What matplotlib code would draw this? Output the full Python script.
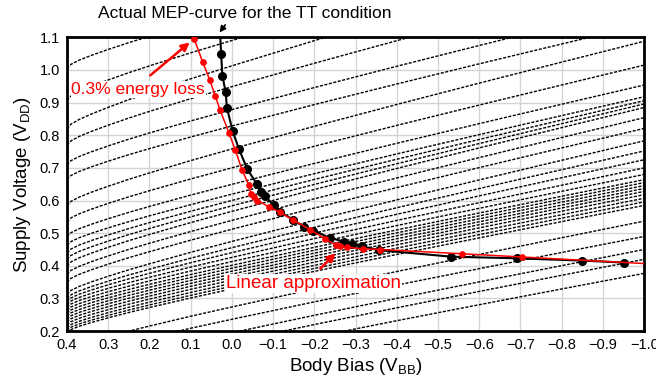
import numpy as np
import matplotlib.pyplot as plt

plt.rcParams['font.family'] = ['Liberation Sans', 'DejaVu Sans']

# actual MEP curve for TT (black)
mep_vbb = [0.028, 0.026, 0.023, 0.015, 0.012, -0.002, -0.017, -0.037, -0.060, -0.070,
           -0.081, -0.102, -0.117, -0.149, -0.174, -0.198, -0.237, -0.273, -0.291,
           -0.315, -0.358, -0.532, -0.692, -0.849, -0.952]
mep_vdd = [1.100, 1.049, 0.983, 0.932, 0.885, 0.812, 0.759, 0.697, 0.652, 0.627,
           0.613, 0.585, 0.565, 0.541, 0.520, 0.508, 0.486, 0.474, 0.468,
           0.460, 0.448, 0.428, 0.423, 0.416, 0.410]

# linear approximation with 0.3% energy loss (red)
lin_vbb = [0.091, 0.071, 0.053, 0.040, 0.028, 0.007, -0.008, -0.025, -0.041, -0.046,
           -0.054, -0.062, -0.091, -0.117, -0.149, -0.190, -0.226, -0.253, -0.263,
           -0.279, -0.318, -0.360, -0.558, -0.704, -1.000]
lin_vdd = [1.094, 1.025, 0.968, 0.919, 0.876, 0.807, 0.756, 0.693, 0.648, 0.620,
           0.610, 0.600, 0.580, 0.564, 0.540, 0.511, 0.483, 0.463, 0.460,
           0.457, 0.452, 0.450, 0.437, 0.427, 0.407]

# dashed constant-frequency contours: VDD at VBB=0.4 and at VBB=-1.0
contour_left = [1.005, 0.907, 0.820, 0.770, 0.710, 0.665, 0.585, 0.535, 0.490, 0.463,
                0.440, 0.420, 0.400, 0.374, 0.350, 0.313,
                0.300, 0.291, 0.282, 0.273, 0.264, 0.255, 0.246, 0.237, 0.228, 0.219,
                0.210, 0.202, 0.195,
                0.136, 0.103, 0.061, 0.034, 0.000]
contour_right = [1.500, 1.440, 1.380, 1.290, 1.200, 1.140, 1.088, 1.015, 0.954, 0.918,
                 0.906, 0.896, 0.885, 0.854, 0.821, 0.783,
                 0.752, 0.725, 0.700, 0.680, 0.664, 0.655, 0.646, 0.637, 0.628, 0.618,
                 0.607, 0.596, 0.585,
                 0.537, 0.490, 0.450, 0.420, 0.377]

# common contour shape: fraction of total rise vs distance from VBB = 0.4
shape_u = [0, 0.01, 0.03, 0.06, 0.1, 0.15, 0.2, 0.3, 0.4, 0.6, 0.8, 1.0, 1.2, 1.4]
shape_frac = [0, 0.025, 0.051, 0.081, 0.117, 0.159, 0.198, 0.273, 0.344, 0.482,
              0.615, 0.745, 0.873, 1.0]

fig = plt.figure(figsize=(6.56, 3.85), dpi=100)
ax = fig.add_axes([0.102, 0.140, 0.880, 0.763])

u = np.array(shape_u)
frac = np.array(shape_frac)
for vl, vr in zip(contour_left, contour_right):
    ax.plot(0.4 - u, vl + (vr - vl) * frac, color='k', lw=1.0,
            ls=(0, (2.2, 1.1)), zorder=2)

ax.plot(mep_vbb, mep_vdd, color='k', lw=1.5, zorder=4)
ax.plot(mep_vbb[1:], mep_vdd[1:], 'o', color='k', ms=5.5, zorder=4)
ax.plot(lin_vbb, lin_vdd, color='red', lw=1.1, zorder=5)
ax.plot(lin_vbb[:-1], lin_vdd[:-1], 'o', color='red', ms=3.8, zorder=5)

ax.set_xlim(0.4, -1.0)
ax.set_ylim(0.2, 1.1)
xt = np.round(np.arange(0.4, -1.05, -0.1), 1)
yt = np.round(np.arange(0.2, 1.15, 0.1), 1)
ax.set_xticks(xt)
ax.set_xticklabels([f'{v:.1f}'.replace('-', '\u2212') for v in xt])
ax.set_yticks(yt)
ax.set_yticklabels([f'{v:.1f}' for v in yt])
ax.tick_params(length=0, labelsize=10.5, pad=5)
ax.grid(color='#d4d4d4', lw=1)
ax.set_axisbelow(True)
for s in ax.spines.values():
    s.set_linewidth(2)

ax.set_xlabel('Body Bias (V$_\\mathregular{BB}$)', fontsize=13.5, labelpad=3)
ax.set_ylabel('Supply Voltage (V$_\\mathregular{DD}$)', fontsize=13.5, labelpad=5)

ax.text(-0.032, 1.172, 'Actual MEP-curve for the TT condition', fontsize=12.5,
        ha='center', va='center', clip_on=False)
ax.annotate('', xy=(0.034, 1.108), xytext=(0.012, 1.145), annotation_clip=False,
            arrowprops=dict(arrowstyle='-|>', color='k', lw=1.2, mutation_scale=9))

bb = dict(facecolor='white', edgecolor='none', pad=0.5)
ax.text(0.389, 0.94, '0.3% energy loss', color='red', fontsize=12.5,
        ha='left', va='center', bbox=bb, zorder=6)
ax.annotate('', xy=(0.097, 1.090), xytext=(0.203, 0.978),
            arrowprops=dict(arrowstyle='-|>', color='red', lw=1.8, mutation_scale=12),
            zorder=6)
ax.text(0.014, 0.346, 'Linear approximation', color='red', fontsize=13.5,
        ha='left', va='center', bbox=bb, zorder=6)
ax.annotate('', xy=(-0.256, 0.445), xytext=(-0.21, 0.385),
            arrowprops=dict(arrowstyle='-|>', color='red', lw=1.8, mutation_scale=12),
            zorder=6)

fig.savefig('out.png', dpi=100)
